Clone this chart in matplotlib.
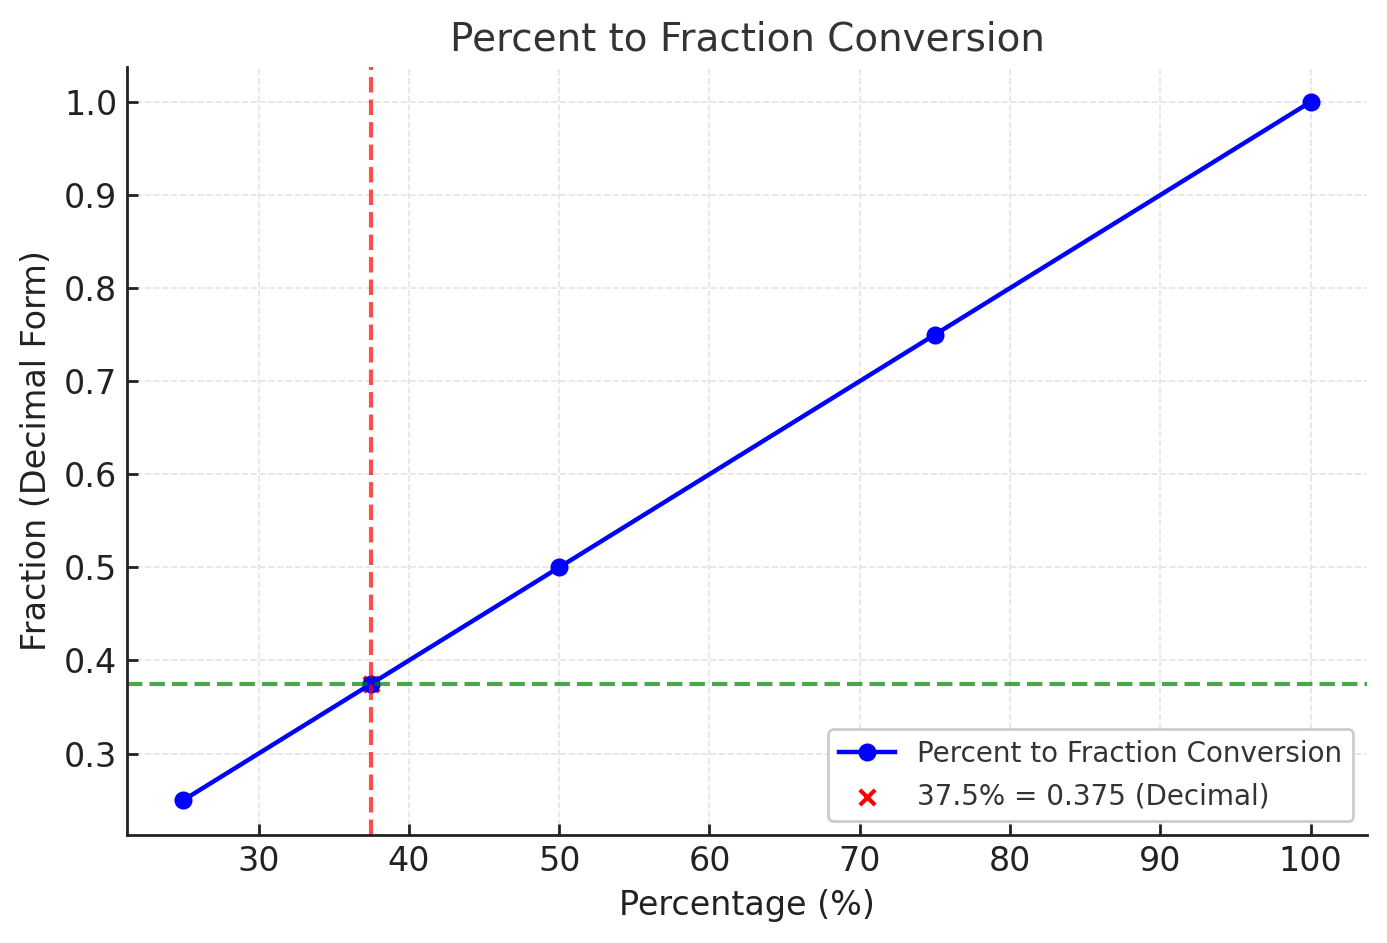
import matplotlib
matplotlib.use("Agg")
import matplotlib.pyplot as plt

# data
percentages = [25, 37.5, 50, 75, 100]
fractions = [0.25, 0.375, 0.5, 0.75, 1.0]
highlight_pct = 37.5
highlight_frac = 0.375

plt.rcParams['font.family'] = ['DejaVu Sans']

fig = plt.figure(figsize=(1387 / 200, 943 / 200), dpi=200)
ax = fig.add_axes([0.0916, 0.1145, 0.894, 0.8145])

ax.plot(percentages, fractions, marker='o', color='blue', linewidth=1.6,
        markersize=5.5, label='Percent to Fraction Conversion')
ax.scatter([highlight_pct], [highlight_frac], color='red', marker='x', s=30,
           zorder=1, label='37.5% = 0.375 (Decimal)')
ax.axvline(highlight_pct, color='red', linestyle=(0, (3.7, 1.7)), linewidth=1.5, alpha=0.7)
ax.axhline(highlight_frac, color='green', linestyle=(0, (3.7, 1.7)), linewidth=1.5, alpha=0.7)

ax.set_title('Percent to Fraction Conversion', fontsize=14, color='#333333')
ax.set_xlabel('Percentage (%)', fontsize=12, color='#222222')
ax.set_ylabel('Fraction (Decimal Form)', fontsize=12, color='#222222')

ax.tick_params(direction='in', labelsize=12, colors='#222222', length=4, width=1)
for side in ['top', 'right']:
    ax.spines[side].set_visible(False)
for side in ['left', 'bottom']:
    ax.spines[side].set_linewidth(1)
    ax.spines[side].set_color('#222222')

ax.grid(True, linestyle='--', color='#dddddd', linewidth=0.6, alpha=0.8)
ax.set_axisbelow(True)

leg = ax.legend(loc='lower right', fontsize=10, frameon=True, edgecolor='#cccccc',
                framealpha=1)
for t in leg.get_texts():
    t.set_color('#333333')

fig.savefig('out.png', dpi=200)
